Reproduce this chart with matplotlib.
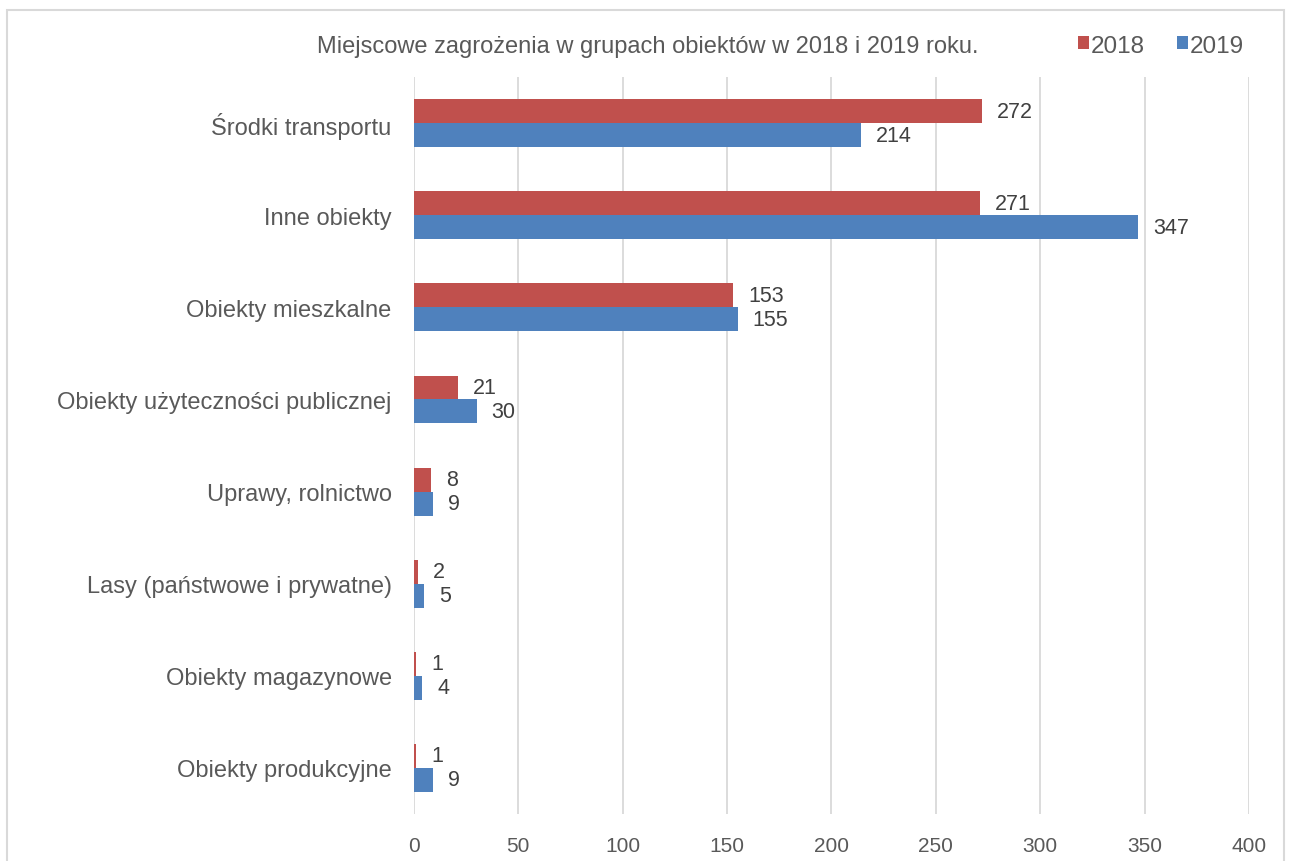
import matplotlib.pyplot as plt
import numpy as np
from matplotlib.patches import Rectangle

plt.rcParams['font.family'] = ['Liberation Sans', 'DejaVu Sans']

# data, top to bottom as in the chart
categories = ['Środki transportu', 'Inne obiekty', 'Obiekty mieszkalne',
              'Obiekty użyteczności publicznej', 'Uprawy, rolnictwo',
              'Lasy (państwowe i prywatne)', 'Obiekty magazynowe',
              'Obiekty produkcyjne']
values_2018 = [272, 271, 153, 21, 8, 2, 1, 1]
values_2019 = [214, 347, 155, 30, 9, 5, 4, 9]
years = ['2018', '2019']

red = '#C0504D'
blue = '#4F81BD'
text_col = '#595959'

fig = plt.figure(figsize=(12.9, 8.62), dpi=100)
ax = fig.add_axes([0.3209, 0.0545, 0.6473, 0.855])

n = len(categories)
y = np.arange(n)
h = 0.26

bars18 = ax.barh(y - h / 2, values_2018, height=h, color=red, label=years[0])
bars19 = ax.barh(y + h / 2, values_2019, height=h, color=blue, label=years[1])

# value labels next to each bar
for bars in (bars18, bars19):
    for b in bars:
        ax.annotate(str(int(b.get_width())),
                    (b.get_width(), b.get_y() + b.get_height() / 2),
                    xytext=(15, 0), textcoords='offset pixels',
                    va='center', ha='left', fontsize=15.5, color='#404040')

ax.set_ylim(n - 0.5, -0.5)
ax.set_xlim(0, 400)
ax.set_xticks(range(0, 401, 50))
ax.set_yticks(y)
ax.set_yticklabels(categories)
ax.tick_params(axis='y', length=0, pad=16, labelsize=17, labelcolor=text_col)
ax.tick_params(axis='x', length=0, pad=16, labelsize=15, labelcolor=text_col)
ax.xaxis.grid(True, color='#D9D9D9', linewidth=1.3)
ax.set_axisbelow(True)
for s in ax.spines.values():
    s.set_visible(False)

fig.text(0.5023, 0.946, 'Miejscowe zagrożenia w grupach obiektów w 2018 i 2019 roku.',
         ha='center', va='center', fontsize=17, color=text_col)

leg = fig.legend(loc='center', bbox_to_anchor=(0.9, 0.946), ncol=2, frameon=False,
                 fontsize=17.5, handlelength=0.45, handleheight=0.45, handletextpad=0.1,
                 columnspacing=1.3, labelcolor=text_col)

# outer chart frame
fig.patches.append(Rectangle((7 / 1290, -0.01), 1277 / 1290, 1 - 11 / 862 + 0.01,
                             transform=fig.transFigure, fill=False,
                             edgecolor='#D9D9D9', linewidth=1.5))

fig.savefig('out.png', dpi=100)
